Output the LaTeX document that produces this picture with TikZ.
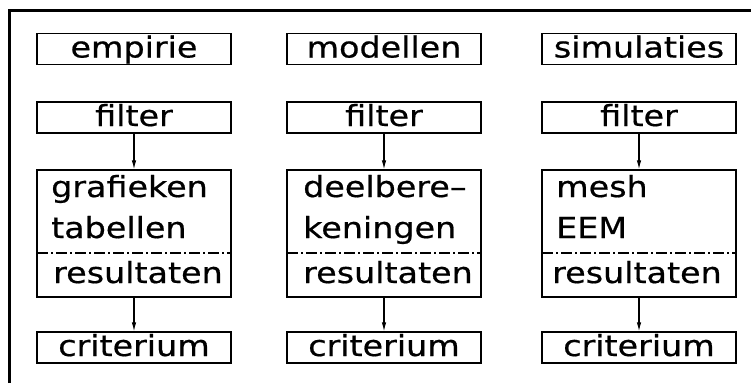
\documentclass[tikz,border=0pt]{standalone}
\usepackage{fontspec}
\newfontfamily\plotfont[FakeStretch=1.15,FakeBold=0.6]{DejaVu Sans}
\usetikzlibrary{arrows.meta}
\begin{document}
\begin{tikzpicture}[x=1pt,y=-1pt,
  box/.style={draw,line width=1.3pt,rectangle,inner sep=0pt,
    font=\plotfont\fontsize{29}{32}\selectfont,text height=21pt,text depth=4pt},
  smallbox/.style={box,minimum width=194pt,minimum height=31pt},
  bigbox/.style={draw,line width=1.3pt,rectangle,inner sep=0pt,
    minimum width=194pt,minimum height=127pt},
  txt/.style={anchor=base west,inner sep=0pt,
    font=\plotfont\fontsize{29}{32}\selectfont},
  divider/.style={line width=1.1pt,dash pattern=on 11pt off 3pt on 2pt off 3pt},
  arr/.style={line width=1.1pt,-{Latex[length=9pt,width=4.5pt]}}]
\useasboundingbox (0,0) rectangle (751,383);
% outer frame
\draw[line width=3pt] (9,383) -- (9,10) -- (751,10);

% column 1
\node[smallbox] (src1) at (134,49) {empirie};
\node[smallbox] (filt1) at (134,117.5) {filter};
\node[bigbox] (main1) at (134,233.5) {};
\node[smallbox] (crit1) at (134,347.5) {criterium};
\node[txt] (a1) at (51,197) {grafieken};
\node[txt] (b1) at (51,238) {tabellen};
\node[txt] (r1) at (53,283) {resultaten};
\coordinate (d1l) at (37,253);
\coordinate (d1r) at (231,253);
\draw[divider] (d1l) -- (d1r);
\draw[arr] (filt1.south) -- (main1.north);
\draw[arr] (main1.south) -- (crit1.north);

% column 2
\node[smallbox] (src2) at (384,49) {modellen};
\node[smallbox] (filt2) at (384,117.5) {filter};
\node[bigbox] (main2) at (384,233.5) {};
\node[smallbox] (crit2) at (384,347.5) {criterium};
\node[txt] (a2) at (303,197) {deelbere–};
\node[txt] (b2) at (303,238) {keningen};
\node[txt] (r2) at (303,283) {resultaten};
\coordinate (d2l) at (287,253);
\coordinate (d2r) at (481,253);
\draw[divider] (d2l) -- (d2r);
\draw[arr] (filt2.south) -- (main2.north);
\draw[arr] (main2.south) -- (crit2.north);

% column 3
\node[smallbox] (src3) at (639,49) {simulaties};
\node[smallbox] (filt3) at (639,117.5) {filter};
\node[bigbox] (main3) at (639,233.5) {};
\node[smallbox] (crit3) at (639,347.5) {criterium};
\node[txt] (a3) at (556,197) {mesh};
\node[txt] (b3) at (556,238) {EEM};
\node[txt] (r3) at (552,283) {resultaten};
\coordinate (d3l) at (542,253);
\coordinate (d3r) at (736,253);
\draw[divider] (d3l) -- (d3r);
\draw[arr] (filt3.south) -- (main3.north);
\draw[arr] (main3.south) -- (crit3.north);
\end{tikzpicture}
\end{document}
